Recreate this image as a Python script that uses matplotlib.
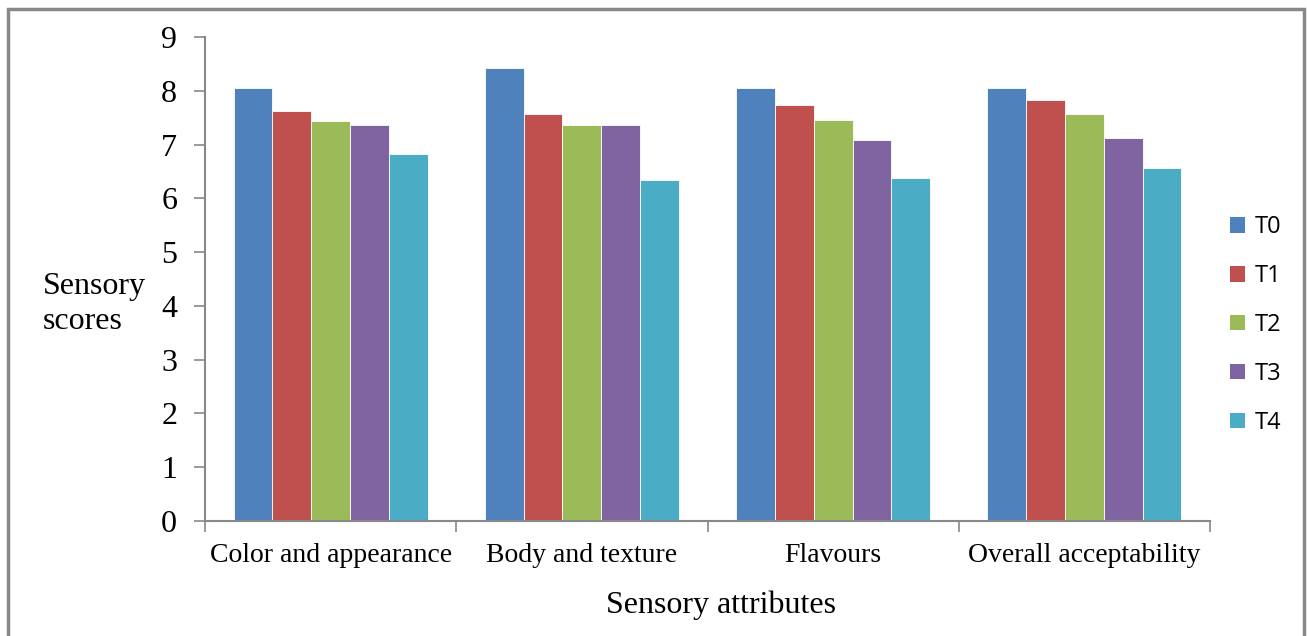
import numpy as np
import matplotlib
matplotlib.use("Agg")
import matplotlib.pyplot as plt
from matplotlib.patches import Rectangle, Patch

attributes = ["Color and appearance", "Body and texture", "Flavours", "Overall acceptability"]
treatments = ["T0", "T1", "T2", "T3", "T4"]
T0 = [8.05, 8.43, 8.05, 8.05]
T1 = [7.62, 7.56, 7.73, 7.83]
T2 = [7.43, 7.37, 7.45, 7.56]
T3 = [7.37, 7.37, 7.09, 7.12]
T4 = [6.83, 6.35, 6.38, 6.57]
yticks = list(range(0, 10))

series = [T0, T1, T2, T3, T4]
colors = ["#4F81BD", "#C0504D", "#9BBB59", "#8064A2", "#4BACC6"]

W, H, DPI = 1307, 636, 100
fig = plt.figure(figsize=(W / DPI, H / DPI), dpi=DPI)
serif = "Liberation Serif"

# axes box in pixel coordinates
left, right, top, bottom = 205, 1210, 37, 521
ax = fig.add_axes([left / W, 1 - bottom / H, (right - left) / W, (bottom - top) / H])

n = len(series)
group_w = 0.773
bar_w = group_w / n
x = np.arange(len(attributes))
for i, (vals, c) in enumerate(zip(series, colors)):
    offs = (i - (n - 1) / 2) * bar_w
    ax.bar(x + offs, vals, width=bar_w, color=c, edgecolor="white",
           linewidth=0.6, zorder=2)

ax.set_xlim(-0.5, len(attributes) - 0.5)
ax.set_ylim(0, 9)
ax.set_yticks(yticks)
ax.set_yticklabels([str(v) for v in yticks], fontfamily=serif, fontsize=23)
ax.set_xticks(x)
ax.set_xticklabels(attributes, fontfamily=serif, fontsize=20)
ax.set_xticks(np.arange(-0.5, len(attributes)), minor=True)
ax.tick_params(axis="x", which="major", length=0, pad=16)
ax.tick_params(axis="x", which="minor", length=8, width=1.2, color="#888888")
ax.tick_params(axis="y", length=8, width=1.2, color="#888888", pad=12)

for s in ["top", "right"]:
    ax.spines[s].set_visible(False)
for s in ["left", "bottom"]:
    ax.spines[s].set_color("#888888")
    ax.spines[s].set_linewidth(1.5)

fig.text(43 / W, 1 - 304 / H, "Sensory\nscores", fontfamily=serif, fontsize=23,
         ha="left", va="center", linespacing=1.25)
fig.text(721 / W, 1 - 605 / H, "Sensory attributes",
         fontfamily=serif, fontsize=23, ha="center", va="center")

handles = [Patch(facecolor=c, edgecolor="none") for c in colors]
fig.legend(handles, treatments, loc="center left",
           bbox_to_anchor=(1209 / W, 1 - 325 / H), frameon=False,
           prop={"family": "Open Sans", "size": 17},
           handlelength=0.62, handleheight=0.62, handletextpad=0.4,
           labelspacing=1.05)

# outer frame
fig.patches.append(Rectangle((7.5 / W, -0.1), (1304 - 7.5) / W, 1.1 - 8.5 / H,
                             transform=fig.transFigure, fill=False,
                             edgecolor="#888888", linewidth=2.5))

fig.savefig("out.png", dpi=DPI)
